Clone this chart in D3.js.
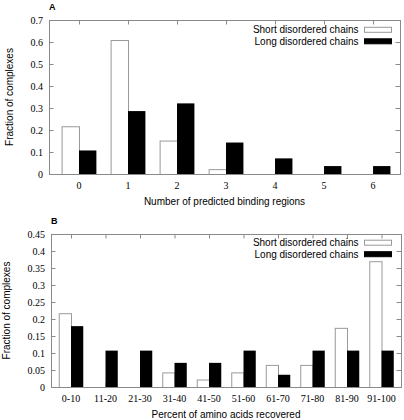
<!DOCTYPE html>
<html><head><meta charset="utf-8">
<script src="https://cdn.jsdelivr.net/npm/d3@7"></script>
<style>body{margin:0;background:#fff}svg{display:block}</style>
</head><body>
<svg id="c" width="404" height="420"></svg>
<script>
const catsA = ["0","1","2","3","4","5","6"];
const shortA = [0.217, 0.609, 0.152, 0.022, 0, 0, 0];
const longA = [0.107, 0.286, 0.321, 0.143, 0.071, 0.036, 0.036];
const yTicksA = [0,0.1,0.2,0.3,0.4,0.5,0.6,0.7];

const catsB = ["0-10","11-20","21-30","31-40","41-50","51-60","61-70","71-80","81-90","91-100"];
const shortB = [0.217, 0, 0, 0.043, 0.022, 0.043, 0.065, 0.065, 0.174, 0.370];
const longB = [0.179, 0.107, 0.107, 0.071, 0.071, 0.107, 0.036, 0.107, 0.107, 0.107];
const yTicksB = [0,0.05,0.1,0.15,0.2,0.25,0.3,0.35,0.4,0.45];

const seriesNames = ["Short disordered chains","Long disordered chains"];

const svg = d3.select("#c");
const BORDER = "#8a8a8a";
const SANS = "'Liberation Sans', Arial, sans-serif";
const SERIF = "'Liberation Serif', 'Times New Roman', serif";
const BW = 0.355;

function panel(o){
  const g = svg.append("g");
  const x = d3.scaleLinear().domain(o.xdom).range([o.x0, o.x1]);
  const y = d3.scaleLinear().domain([0, o.ymax]).range([o.y1, o.y0]);
  const idx = o.cats.map((c,i)=>i);
  const tk = 4.5;
  g.selectAll(".ytl").data(o.yTicks).join("line")
    .attr("x1", o.x0).attr("x2", o.x0+tk).attr("y1", d=>y(d)+0.5).attr("y2", d=>y(d)+0.5)
    .attr("stroke", BORDER).attr("stroke-width",1);
  g.selectAll(".ytr").data(o.yTicks).join("line")
    .attr("x1", o.x1).attr("x2", o.x1-tk).attr("y1", d=>y(d)+0.5).attr("y2", d=>y(d)+0.5)
    .attr("stroke", BORDER).attr("stroke-width",1);
  g.selectAll(".xtt").data(idx).join("line")
    .attr("x1", d=>x(d)+0.5).attr("x2", d=>x(d)+0.5).attr("y1", o.y0).attr("y2", o.y0+tk)
    .attr("stroke", BORDER).attr("stroke-width",1);
  g.selectAll(".xtb").data(idx).join("line")
    .attr("x1", d=>x(d)+0.5).attr("x2", d=>x(d)+0.5).attr("y1", o.y1).attr("y2", o.y1-tk)
    .attr("stroke", BORDER).attr("stroke-width",1);
  g.selectAll(".bs").data(o.short).join("rect")
    .attr("x", (d,i)=>x(i-BW)+0.5).attr("width", (d,i)=>x(i)-x(i-BW))
    .attr("y", d=>y(d)+0.5).attr("height", d=>Math.max(0,y(0)-y(d)))
    .attr("fill","#fff").attr("stroke", d=>d>0?"#999":"none").attr("stroke-width",1);
  g.selectAll(".bl").data(o.long).join("rect")
    .attr("x", (d,i)=>x(i)).attr("width", (d,i)=>x(i+BW)-x(i))
    .attr("y", d=>y(d)).attr("height", d=>Math.max(0,y(0)-y(d)))
    .attr("fill","#000");
  g.append("rect").attr("x", o.x0+0.5).attr("y", o.y0+0.5)
    .attr("width", o.x1-o.x0).attr("height", o.y1-o.y0)
    .attr("fill","none").attr("stroke", BORDER).attr("stroke-width",1);
  g.selectAll(".ylab").data(o.yTicks).join("text")
    .attr("x", o.x0-6).attr("y", d=>y(d)).attr("dy","0.35em")
    .attr("text-anchor","end").attr("font-family", SERIF).attr("font-size", 10)
    .text(d=>d3.format("~g")(d));
  g.selectAll(".xlab").data(o.cats).join("text")
    .attr("x", (d,i)=>x(i)).attr("y", o.y1+15)
    .attr("text-anchor","middle").attr("font-family", SERIF).attr("font-size", 10)
    .text(d=>d);
  g.append("text").attr("x", (o.x0+o.x1)/2).attr("y", o.y1+31)
    .attr("text-anchor","middle").attr("font-family", SANS).attr("font-size", 10)
    .text(o.xtitle);
  g.append("text").attr("transform", `translate(${o.ytx},${(o.y0+o.y1)/2}) rotate(-90)`)
    .attr("text-anchor","middle").attr("dy","0.35em").attr("font-family", SANS).attr("font-size", 10)
    .text("Fraction of complexes");
  g.append("text").attr("x", o.x0).attr("y", o.y0-10)
    .attr("font-family", SANS).attr("font-size", 9).attr("font-weight","bold")
    .text(o.letter);
  const fills = ["#fff","#000"];
  seriesNames.forEach((n,k)=>{
    const cy = o.y0 + o.legY + k*11.5;
    g.append("text").attr("x", 358.5).attr("y", cy).attr("dy","0.35em")
      .attr("text-anchor","end").attr("font-family", SANS).attr("font-size", 10)
      .text(n);
    g.append("rect").attr("x", 364.5).attr("y", cy-2.5).attr("width", 27).attr("height", 5)
      .attr("fill", fills[k]).attr("stroke", k===0?"#999":"#000").attr("stroke-width",1);
  });
}

panel({cats:catsA, short:shortA, long:longA, yTicks:yTicksA, ymax:0.7,
  x0:49, x1:400, y0:20, y1:174, xdom:[-0.612, 6.55], ytx:9,
  xtitle:"Number of predicted binding regions", letter:"A", legY:9.8});
panel({cats:catsB, short:shortB, long:longB, yTicks:yTicksB, ymax:0.45,
  x0:51, x1:401, y0:234, y1:387, xdom:[-0.58, 9.565], ytx:6.5,
  xtitle:"Percent of amino acids recovered", letter:"B", legY:8.7});
</script>
</body></html>
